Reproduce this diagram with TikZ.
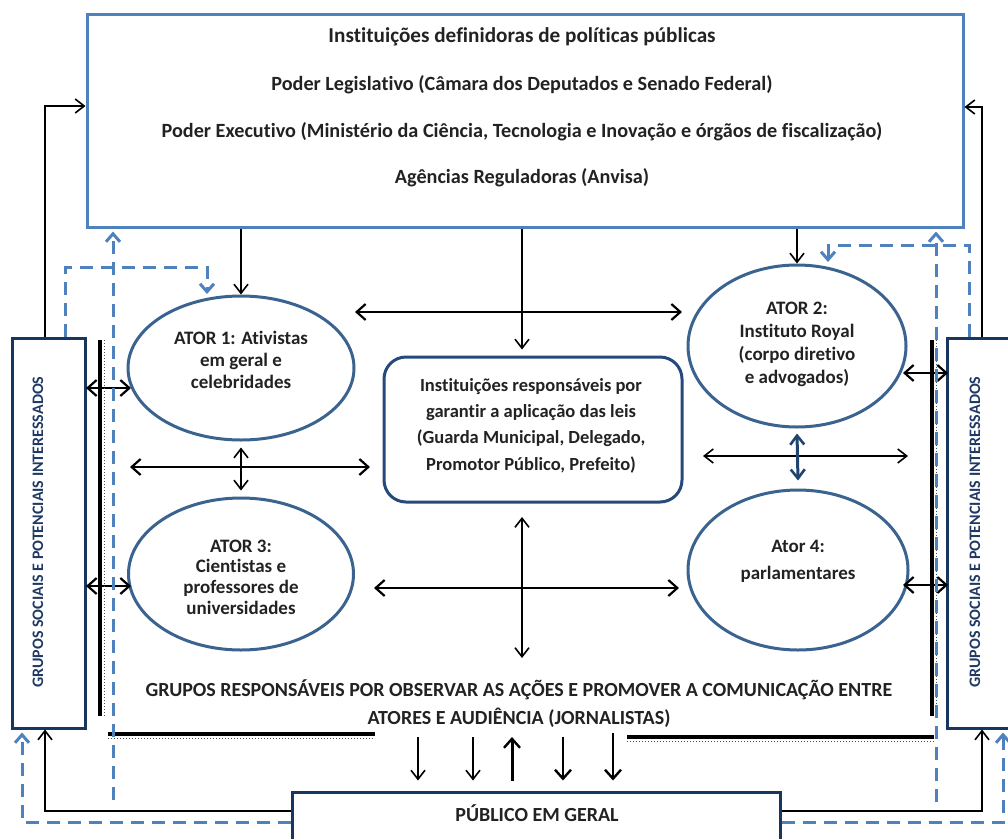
\documentclass[tikz,border=0pt]{standalone}
\usepackage{fontspec}
\setmainfont{Carlito}[Ligatures=NoCommon]
\usetikzlibrary{arrows.meta,shapes.geometric,calc}
\definecolor{boxblue}{HTML}{4F81BD}
\definecolor{ellblue}{HTML}{3A6390}
\definecolor{ctrblue}{HTML}{24497A}
\definecolor{navy}{HTML}{17375E}
\definecolor{txtnavy}{HTML}{1F3864}
\definecolor{txt}{HTML}{222222}
\definecolor{darkarrow}{HTML}{1F4470}
\begin{document}
\begin{tikzpicture}[x=1pt,y=-1pt,
  lbl/.style={font=\fontsize{20.2}{24}\selectfont\bfseries, align=center, text=txt, inner sep=0pt},
  sidetext/.style={font=\fontsize{16}{18}\selectfont\bfseries, text=txtnavy, inner sep=0pt, rotate=90},
  ell/.style={ellipse, draw=ellblue, line width=3pt, inner sep=0pt},
  sidebox/.style={draw=navy, line width=3pt, inner sep=0pt},
  thinarr/.style={draw=black, line width=1.3pt, -{Straight Barb[length=9pt,width=14pt,line width=1.6pt]}},
  thindbl/.style={draw=black, line width=1.3pt, {Straight Barb[length=9pt,width=14pt,line width=1.6pt]}-{Straight Barb[length=9pt,width=14pt,line width=1.6pt]}},
  meddbl/.style={draw=black, line width=2.2pt, {Straight Barb[length=9pt,width=16pt,line width=2.2pt]}-{Straight Barb[length=9pt,width=16pt,line width=2.2pt]}},
  medarr/.style={draw=black, line width=2.6pt, -{Straight Barb[length=9pt,width=16pt,line width=2.4pt]}},
  dashblue/.style={draw=boxblue, line width=3pt, dash pattern=on 13pt off 8pt},
  dasharr/.style={dashblue, -{Straight Barb[length=8pt,width=14pt,line width=3pt]}},
  heavyline/.style={draw=black, line width=3.4pt},
  dotline/.style={draw=black!70, line width=1pt, dash pattern=on 1pt off 2pt}
]
\useasboundingbox (0,0) rectangle (1008,838);

% ---------- top box ----------
\node[draw=boxblue, line width=3pt, minimum width=876pt, minimum height=213pt, inner sep=0pt] (top) at (525,120.5) {};
\node[lbl, font=\fontsize{21.2}{24}\selectfont\bfseries] (tt) at (522,37) {Instituições definidoras de políticas públicas};
\node[lbl] (tl) at (522,85) {Poder Legislativo (Câmara dos Deputados e Senado Federal)};
\node[lbl] (te) at (522,132) {Poder Executivo (Ministério da Ciência, Tecnologia e Inovação e órgãos de fiscalização)};
\node[lbl] (ta) at (522,178) {Agências Reguladoras (Anvisa)};

% ---------- side boxes ----------
\node[sidebox, minimum width=73pt, minimum height=390pt] (lg) at (48.5,533) {};
\node[sidetext] (lgt) at (38,532) {GRUPOS SOCIAIS E POTENCIAIS INTERESSADOS};
\node[sidebox, minimum width=90pt, minimum height=390pt] (rg) at (992,533) {};
\node[sidetext] (rgt) at (975,532) {GRUPOS SOCIAIS E POTENCIAIS INTERESSADOS};

% ---------- ellipses ----------
\node[ell, minimum width=226pt, minimum height=144pt] (a1) at (241,368) {};
\node[lbl, font=\fontsize{19}{22}\selectfont\bfseries] (a1t) at (241,360) {ATOR 1: Ativistas\\em geral e\\celebridades};
\node[ell, minimum width=225pt, minimum height=152pt] (a3) at (241,574) {};
\node[lbl, font=\fontsize{19}{20.7}\selectfont\bfseries] (a3t) at (241,577) {ATOR 3:\\Cientistas e\\professores de\\universidades};
\node[ell, minimum width=218pt, minimum height=162pt] (a2) at (797,346) {};
\node[lbl, font=\fontsize{19}{23}\selectfont\bfseries] (a2t) at (797,344) {ATOR 2:\\Instituto Royal\\(corpo diretivo\\e advogados)};
\node[ell, minimum width=220pt, minimum height=160pt] (a4) at (798,570) {};
\node[lbl, font=\fontsize{19}{27}\selectfont\bfseries] (a4t) at (798,561.5) {Ator 4:\\parlamentares};

% ---------- centre box ----------
\node[draw=ctrblue, line width=3pt, rounded corners=22pt, minimum width=298pt, minimum height=145pt, inner sep=0pt] (ctr) at (533,429.5) {};
\node[lbl, font=\fontsize{18.5}{26.3}\selectfont\bfseries] (ctrt) at (531,425.5) {Instituições responsáveis por\\garantir a aplicação das leis\\(Guarda Municipal, Delegado,\\Promotor Público, Prefeito)};

% ---------- journalists text ----------
\node[lbl, font=\fontsize{20}{28}\selectfont\bfseries] (jt) at (519,704) {GRUPOS RESPONSÁVEIS POR OBSERVAR AS AÇÕES E PROMOVER A COMUNICAÇÃO ENTRE\\ATORES E AUDIÊNCIA (JORNALISTAS)};

% ---------- public box ----------
\node[sidebox, minimum width=488pt, minimum height=100pt] (pub) at (536,842) {};
\node[lbl, font=\fontsize{20}{24}\selectfont\bfseries] (pubt) at (537,813) {PÚBLICO EM GERAL};

% ---------- coordinates ----------
\coordinate (cx) at (522,0);
\coordinate (h1l) at (355,312);
\coordinate (h1r) at (682,312);
\coordinate (h2l) at (130,467);
\coordinate (h2r) at (370,467);
\coordinate (h3l) at (703,456);
\coordinate (h3r) at (908,456);
\coordinate (h4l) at (374,588);
\coordinate (h4r) at (679,588);
\coordinate (cv1) at (522,517);
\coordinate (cv2) at (522,658);
\coordinate (l1a) at (86,388);
\coordinate (l1b) at (131,388);
\coordinate (l3a) at (86,586);
\coordinate (l3b) at (131,586);
\coordinate (r2a) at (903,373);
\coordinate (r2b) at (948,373);
\coordinate (r4a) at (903,585);
\coordinate (r4b) at (948,585);
\coordinate (ltop) at (45,106);
\coordinate (rtop) at (982,107);
\coordinate (lbot) at (45,811);
\coordinate (rbot) at (982,811);
\coordinate (lbd) at (22,822);
\coordinate (rbd) at (1003,822);
\coordinate (ldv) at (113,800);
\coordinate (rdv) at (936,802);
\coordinate (lbr) at (65,267);
\coordinate (rbr) at (969,245);
\coordinate (a1in) at (207,294);
\coordinate (a2in) at (828,262);

% ---------- black arrows from top box ----------
\draw[thinarr] (top.south -| a1.north) -- (a1.north);
\draw[thinarr] (top.south -| a2.north) -- (a2.north);
\draw[thinarr] (top.south -| cx) -- ([yshift=6pt]ctr.north -| cx);

% ---------- inner arrows ----------
\draw[meddbl] (h1l) -- (h1r);
\draw[meddbl] (h2l) -- (h2r);
\draw[thindbl] ([yshift=-6pt]a1.south) -- ([yshift=6pt]a3.north);
\draw[thindbl] (h3l) -- (h3r);
\draw[draw=darkarrow, line width=3pt, {Straight Barb[length=9pt,width=14pt,line width=2.6pt]}-{Straight Barb[length=9pt,width=14pt,line width=2.6pt]}] ([yshift=-5pt]a2.south) -- ([yshift=8pt]a4.north);
\draw[thindbl, line width=1.8pt] (cv1) -- (cv2);
\draw[meddbl] (h4l) -- (h4r);
\draw[meddbl] (l1a) -- (l1b);
\draw[meddbl] (l3a) -- (l3b);
\draw[meddbl] (r2a) -- (r2b);
\draw[meddbl] (r4a) -- (r4b);

% ---------- heavy separator lines ----------
\coordinate (lv1) at (100,340);
\coordinate (lv2) at (100,716);
\coordinate (rv1) at (932,340);
\coordinate (rv2) at (932,716);
\coordinate (lh1) at (108,734);
\coordinate (lh2) at (375,734);
\coordinate (rh1) at (627,737);
\coordinate (rh2) at (934,737);
\draw[heavyline] (lv1) -- (lv2);
\draw[dotline] ([xshift=4pt]lv1) -- ([xshift=4pt]lv2);
\draw[heavyline] (rv1) -- (rv2);
\draw[dotline] ([xshift=4pt]rv1) -- ([xshift=4pt]rv2);
\draw[heavyline] (lh1) -- (lh2);
\draw[dotline] ([yshift=-4pt]lh1) -- ([yshift=-4pt]lh2);
\draw[heavyline] (rh1) -- (rh2);
\draw[dotline] ([yshift=-4pt]rh1) -- ([yshift=-4pt]rh2);

% ---------- arrows between journalists and public ----------
\coordinate (b1) at (418,737);
\coordinate (b2) at (473,737);
\coordinate (b3) at (512,737);
\coordinate (b4) at (563,737);
\coordinate (b5) at (613,733);
\draw[thinarr, line width=1.6pt] (b1) -- ([yshift=10pt]b1 |- pub.north);
\draw[thinarr, line width=1.6pt] (b2) -- ([yshift=10pt]b2 |- pub.north);
\draw[medarr, line width=3pt] ([yshift=10pt]b3 |- pub.north) -- (b3);
\draw[medarr] (b4) -- ([yshift=10pt]b4 |- pub.north);
\draw[medarr] (b5) -- ([yshift=10pt]b5 |- pub.north);

% ---------- black feedback lines ----------
\draw[thinarr] (lg.north -| ltop) -- (ltop) -- (top.west |- ltop);
\draw[thinarr] (rg.north -| rtop) -- (rtop) -- (top.east |- rtop);
\draw[thinarr] (pub.west |- lbot) -- (lbot) -- (lg.south -| lbot);
\draw[thinarr] (pub.east |- rbot) -- (rbot) -- (rg.south -| rbot);

% ---------- blue dashed feedback lines ----------
\draw[dasharr] (pub.west |- lbd) -- (lbd) -- ([yshift=-3pt]lg.south -| lbd);
\draw[dasharr] (pub.east |- rbd) -- (rbd) -- ([yshift=-3pt]rg.south -| rbd);
\draw[dasharr] (ldv) -- ([yshift=-3pt]top.south -| ldv);
\draw[dasharr] (rdv) -- ([yshift=-3pt]top.south -| rdv);
\draw[dasharr] (lg.north -| lbr) -- (lbr) -- (lbr -| a1in) -- (a1in);
\draw[dasharr] (rg.north -| rbr) -- (rbr) -- (rbr -| a2in) -- (a2in);
\end{tikzpicture}
\end{document}
